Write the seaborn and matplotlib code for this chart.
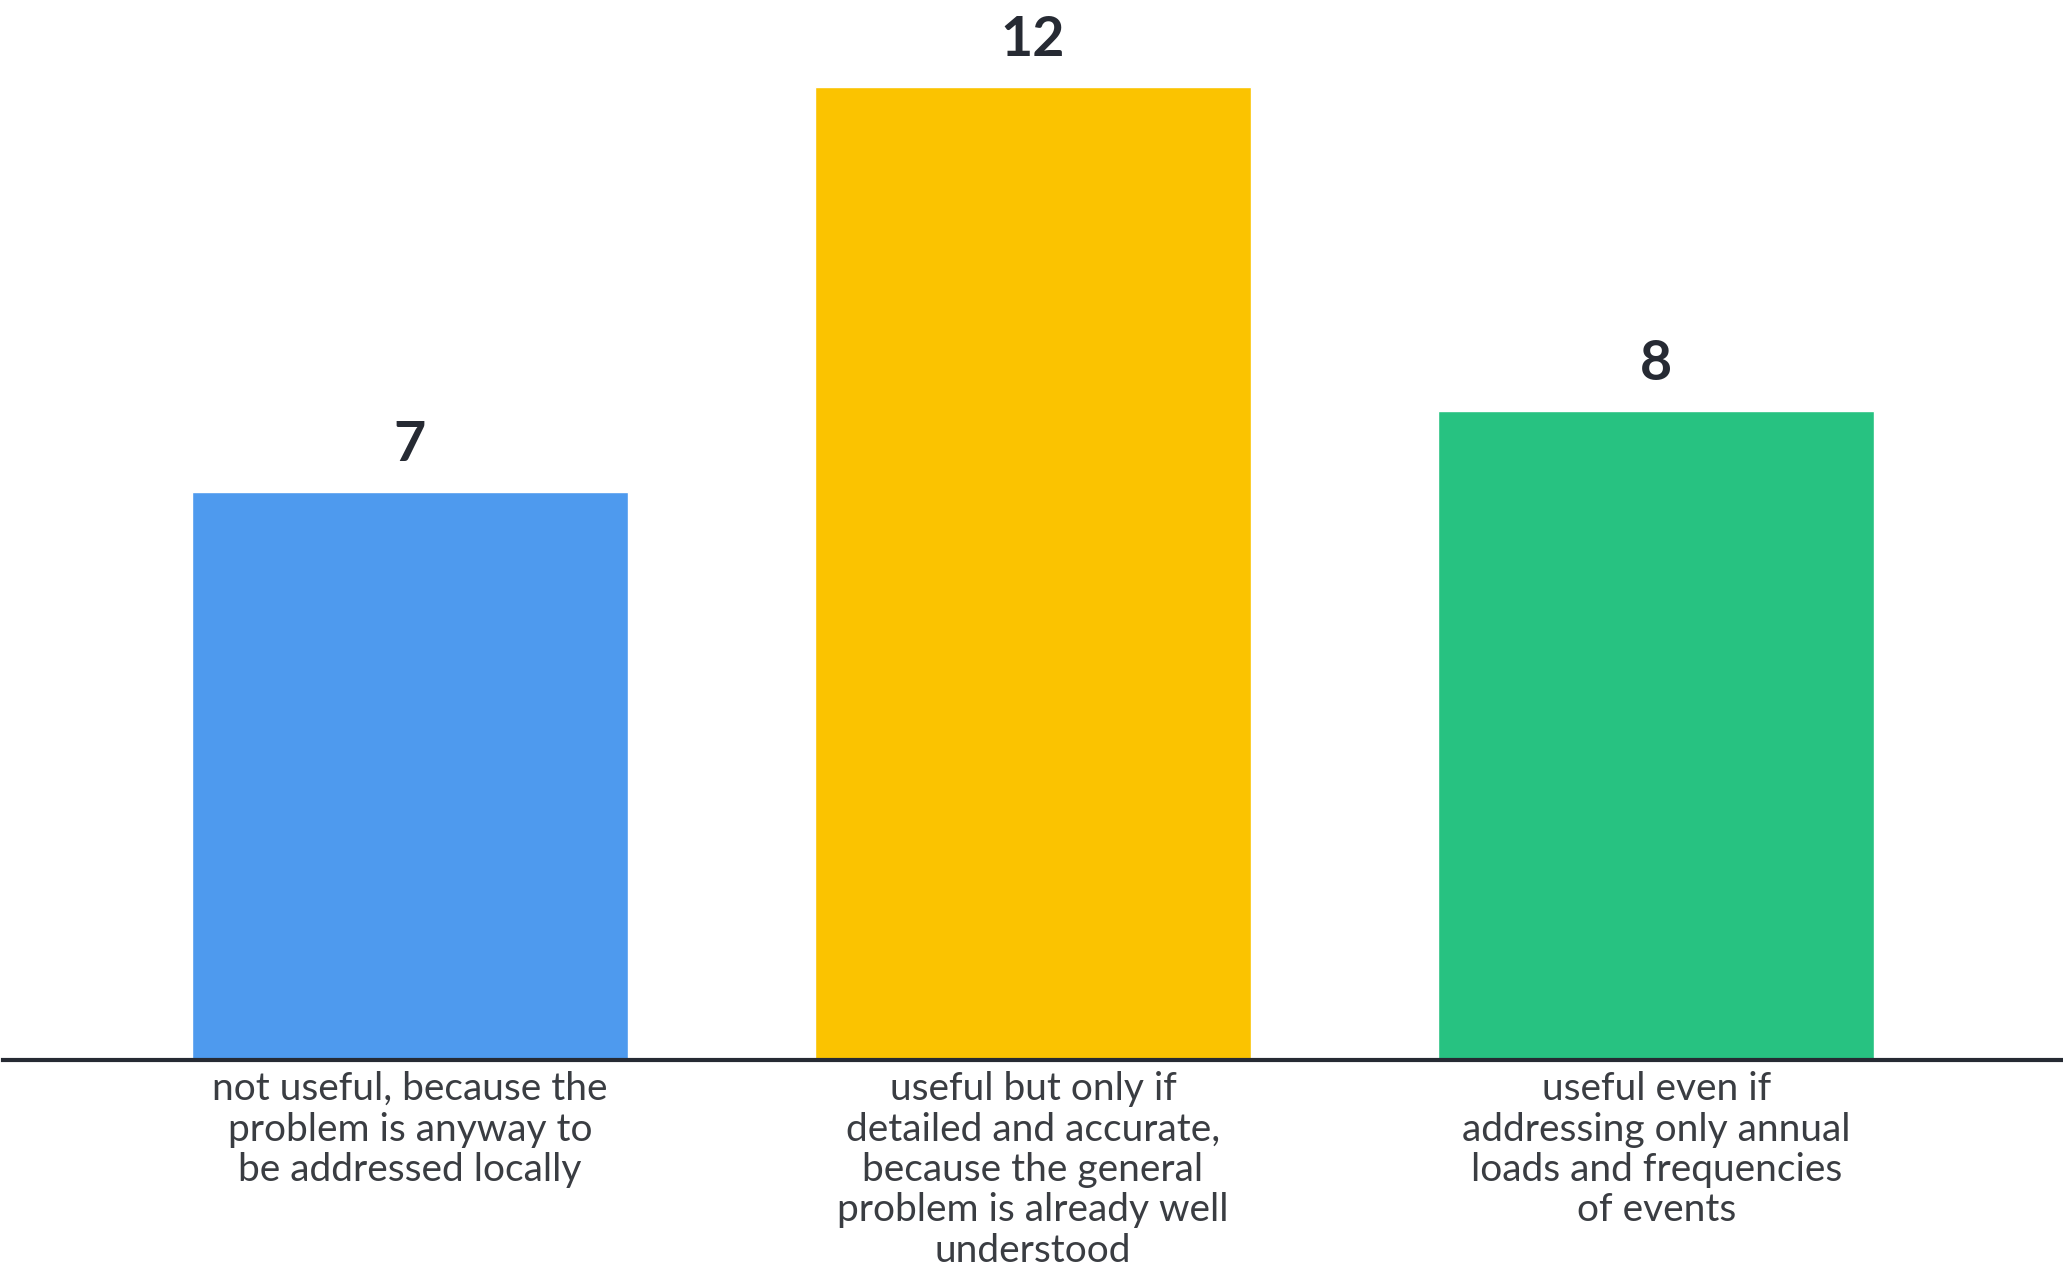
import matplotlib
matplotlib.use('Agg')
import matplotlib.pyplot as plt
import seaborn as sns
import pandas as pd

categories = [
    'not useful, because the\nproblem is anyway to\nbe addressed locally',
    'useful but only if\ndetailed and accurate,\nbecause the general\nproblem is already well\nunderstood',
    'useful even if\naddressing only annual\nloads and frequencies\nof events',
]
counts = [7, 12, 8]
colors = ['#4E9AEE', '#FBC300', '#27C281']


def main():
    df = pd.DataFrame({'answer': categories, 'count': counts})

    sns.set_style('white')
    plt.rcParams['font.family'] = ['Lato', 'DejaVu Sans']

    fig = plt.figure(figsize=(20.63, 12.68), dpi=100)
    ax = fig.add_axes([0.0015, 0.164, 0.9985, 0.836])

    sns.barplot(
        data=df,
        x='answer',
        y='count',
        hue='answer',
        palette=colors,
        legend=False,
        width=0.70,
        saturation=1,
        ax=ax,
    )

    for i, v in enumerate(counts):
        ax.annotate(str(v), (i, v), xytext=(0, 16), textcoords='offset points',
                    ha='center', va='bottom', fontsize=40, fontweight='bold',
                    color='#262a33')

    ax.set_xlim(-0.653, 2.653)
    ax.set_ylim(0, 13.07)
    ax.set_xlabel('')
    ax.set_ylabel('')
    ax.set_yticks([])
    for side in ['top', 'right', 'left']:
        ax.spines[side].set_visible(False)
    ax.spines['bottom'].set_linewidth(3)
    ax.spines['bottom'].set_color('#262a33')
    ax.tick_params(axis='x', length=0, pad=8, labelsize=28, labelcolor='#3a3d42')
    for lbl in ax.get_xticklabels():
        lbl.set_linespacing(1.15)

    fig.savefig('out.png', dpi=100)


if __name__ == '__main__':
    main()
